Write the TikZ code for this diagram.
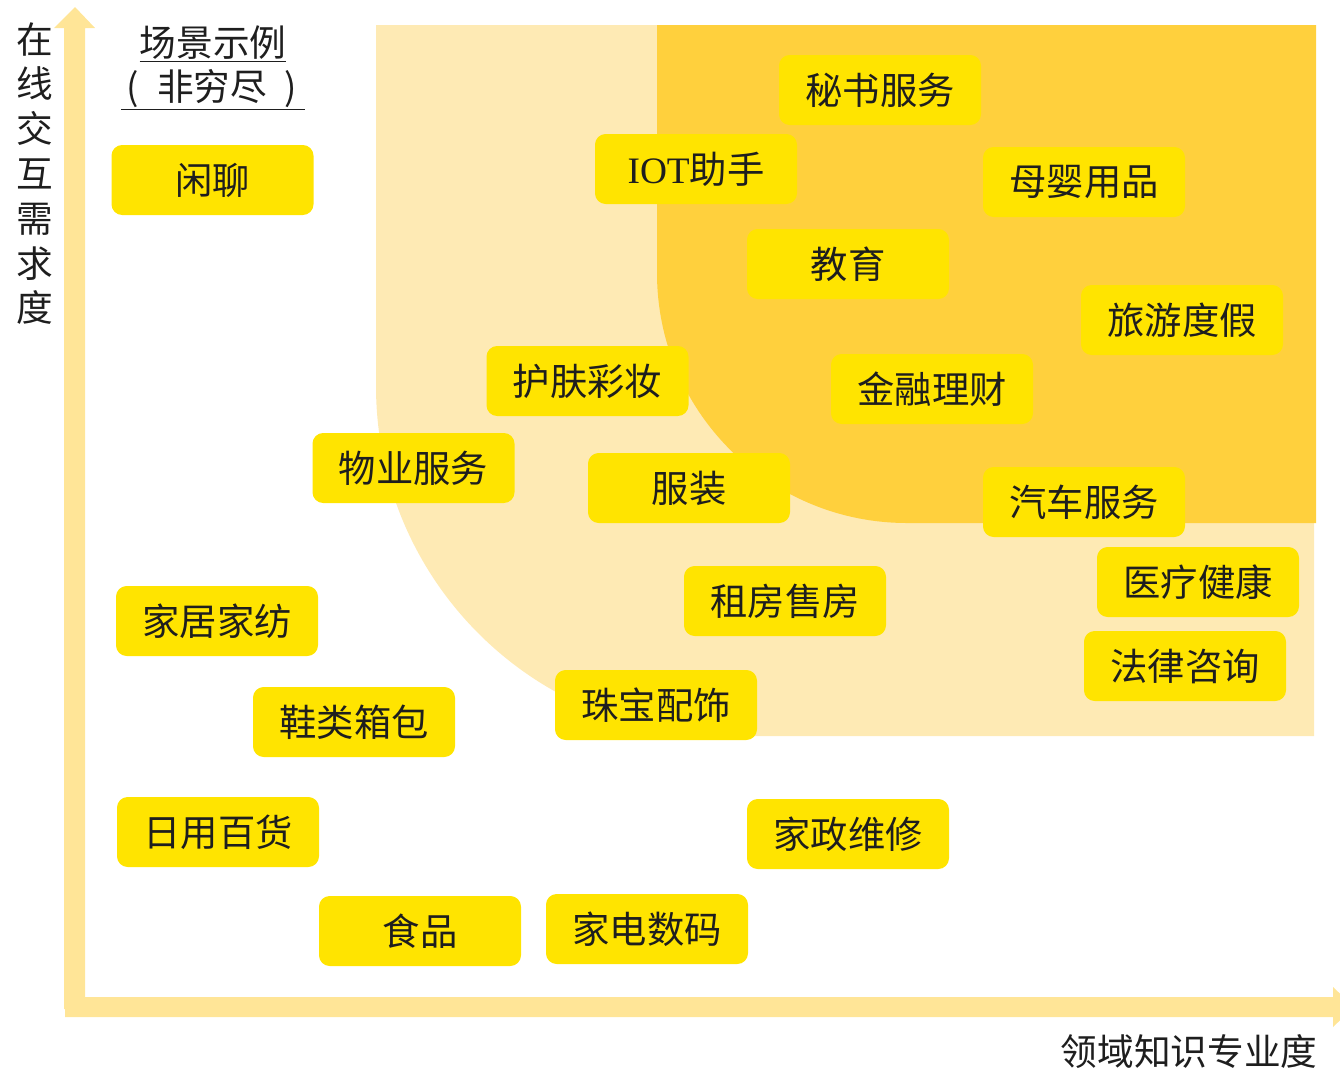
\documentclass[tikz,border=0pt]{standalone}
\usepackage{fontspec}
\setmainfont{Noto Sans CJK SC}
\newfontfamily\iotfont{Liberation Serif}
\usepackage{xcolor}
\usepackage{tikz}

\definecolor{zonelight}{HTML}{FEEAB4}
\definecolor{zonedark}{HTML}{FFD03D}
\definecolor{boxyellow}{HTML}{FFE400}
\definecolor{axisyellow}{HTML}{FFE597}
\definecolor{inkgray}{HTML}{1E1E1E}

\tikzset{
  scene/.style={fill=boxyellow, rounded corners=8pt, minimum width=151.5pt,
    minimum height=52.5pt, inner sep=0pt, text=inkgray,
    font=\fontsize{28}{30}\selectfont},
  axistext/.style={text=inkgray, inner sep=0pt, align=center,
    font=\fontsize{27.5}{33.6}\selectfont}
}

\begin{document}
\begin{tikzpicture}[x=0.75pt,y=0.75pt,yscale=-1,xscale=1]

\useasboundingbox (0,0) rectangle (1340,1072);
\clip (0,0) rectangle (1340,1072);

% zones
\fill[zonelight] (1314,25) -- (376,25) -- (376,386) .. controls (376,579.3) and (532.7,736) .. (726,736) -- (1314,736) -- cycle;

\fill[zonedark] (1316,25) -- (657,25) -- (657,273) .. controls (657,411.1) and (768.9,523) .. (907,523) -- (1316,523) -- cycle;

% axes
\fill[axisyellow] (64,1009) -- (64,28) -- (54,28) -- (75,7) -- (95,28) -- (85,28) -- (85,997) -- (1333,997) -- (1333,987) -- (1354,1007) -- (1333,1027) -- (1333,1017) -- (65,1017) -- (65,1009) -- cycle;

\node[axistext] (ylab) at (34.5,173.5) {在\\线\\交\\互\\需\\求\\度};

\node[axistext] (xlab) at (1189,1052) {领域知识专业度};

\node[axistext, font=\fontsize{27.5}{33}\selectfont] (title) at (213,68) {\underline{场景示例}\\\underline{\makebox[5em]{\hspace{0.15em}(\hfill 非穷尽\hfill )\hspace{0.2em}}}};

% scenes
\node[scene] (chat) at (212.5,180) {闲聊};

\node[scene] (secretary) at (880,90) {秘书服务};

\node[scene] (iot) at (696,169) {{\iotfont IOT}助手};

\node[scene] (baby) at (1084,182) {母婴用品};

\node[scene] (edu) at (848,264) {教育};

\node[scene] (travel) at (1182,320) {旅游度假};

\node[scene] (beauty) at (587.5,381) {护肤彩妆};

\node[scene] (finance) at (932,389) {金融理财};

\node[scene] (property) at (413.5,468) {物业服务};

\node[scene] (apparel) at (689,488) {服装};

\node[scene] (auto) at (1084,502) {汽车服务};

\node[scene] (medical) at (1198,582) {医疗健康};

\node[scene] (homedeco) at (217,621) {家居家纺};

\node[scene] (realty) at (785,601) {租房售房};

\node[scene] (legal) at (1185,666) {法律咨询};

\node[scene] (jewelry) at (656,705) {珠宝配饰};

\node[scene] (shoes) at (354,722) {鞋类箱包};

\node[scene] (grocery) at (218,832) {日用百货};

\node[scene] (housekeep) at (848,834) {家政维修};

\node[scene] (food) at (420,931) {食品};

\node[scene] (appliance) at (647,929) {家电数码};

\end{tikzpicture}
\end{document}
